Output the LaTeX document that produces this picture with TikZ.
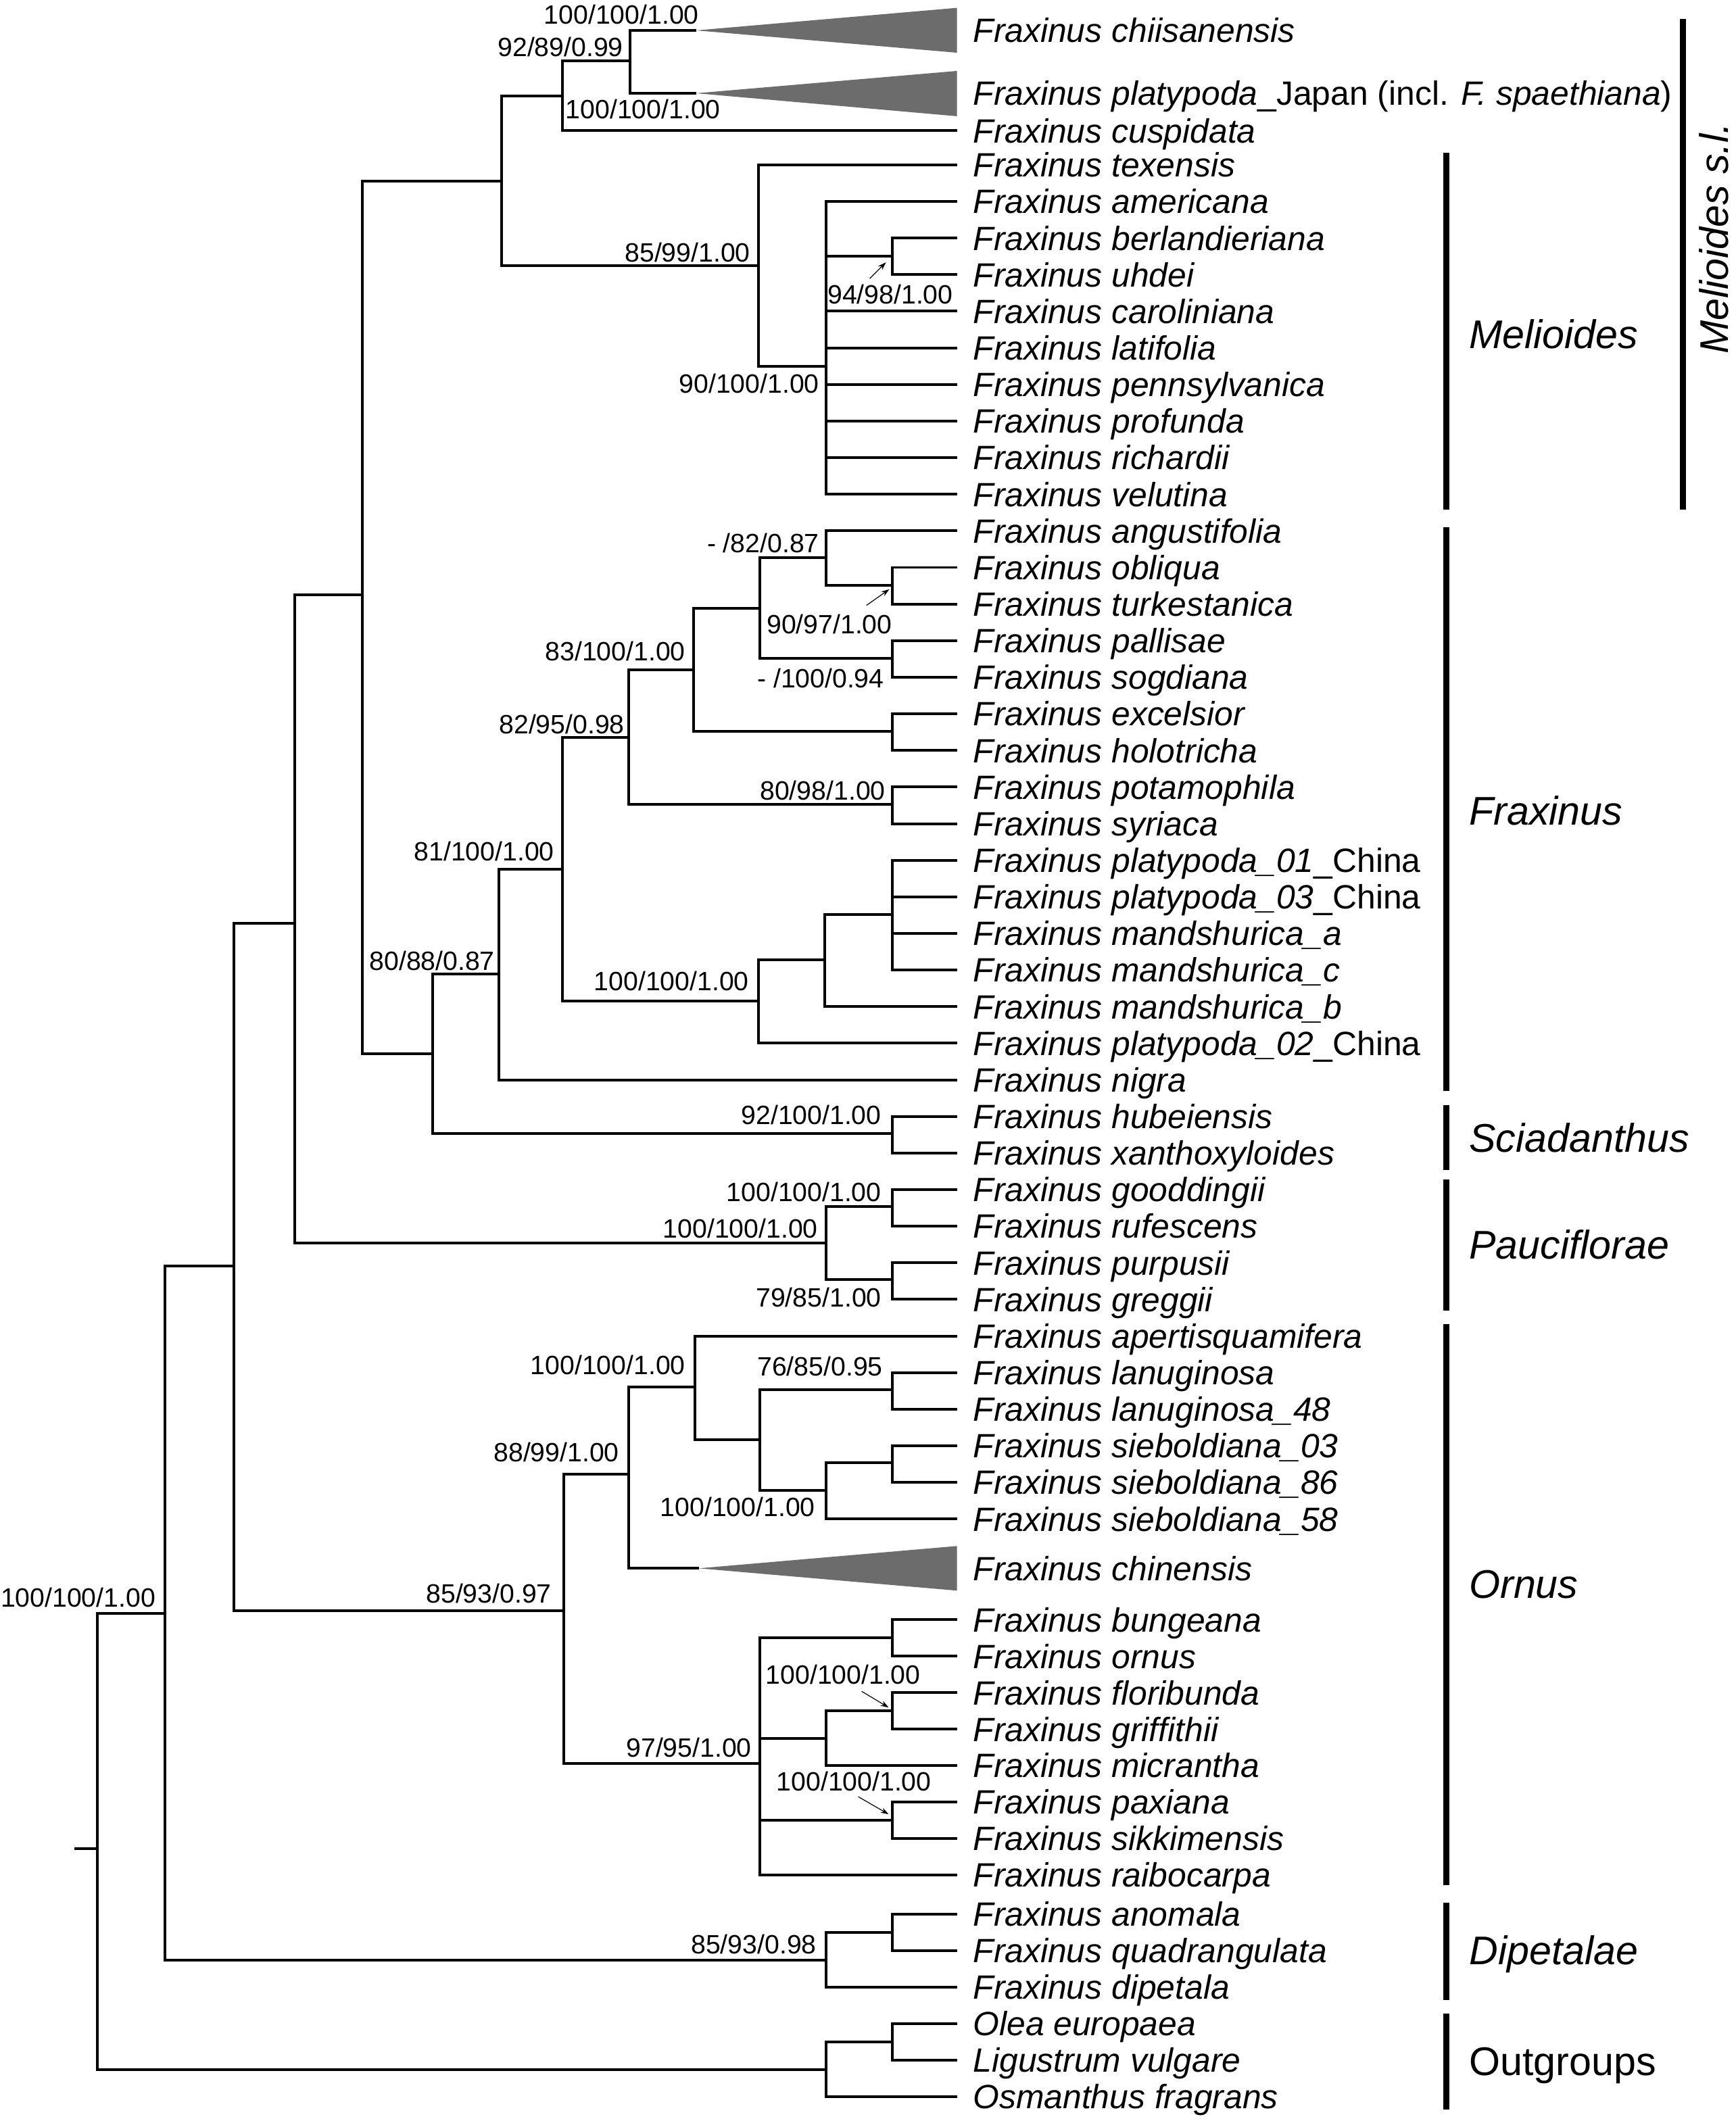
\documentclass[tikz,border=0pt]{standalone}
\usepackage{fontspec}
\setmainfont{Liberation Sans}
\usepackage{tikz}
\usetikzlibrary{arrows.meta, positioning, calc}

\definecolor{cladegray}{RGB}{108,108,108}
\newcommand{\leaffont}{\fontsize{12.46}{14}\selectfont\itshape}
\newcommand{\bsfont}{\fontsize{9.8}{11}\selectfont}
\newcommand{\grpfont}{\fontsize{14.8}{17}\selectfont}

\begin{document}
\begin{tikzpicture}[x=0.5pt, y=-0.5pt,
    every node/.style={inner sep=0pt, outer sep=0pt},
    br/.style={line width=1pt},
    bar/.style={line width=2.3pt},
    leaf/.style={anchor=west, inner xsep=6pt, text height=8.9pt, text depth=0pt, font=\leaffont},
    bs/.style={anchor=east, text height=7pt, text depth=0pt, font=\bsfont},
    grp/.style={anchor=west, text height=10.6pt, text depth=0pt, font=\grpfont\itshape},
    pointer/.style={line width=0.3pt, -{Stealth[length=3pt, width=2pt]}},
    collapsed/.style={fill=cladegray}]

\useasboundingbox (0,0) rectangle (1284,1568);

% Internal nodes of the tree
\coordinate (stub) at (55,1368);
\coordinate (root) at (72,1368);
\coordinate (A) at (122,1194);
\coordinate (B) at (173,937);
\coordinate (C) at (218,683);
\coordinate (D) at (268,440);
\coordinate (E) at (371,134);
\coordinate (F) at (416,71);
\coordinate (G) at (466,45.25);
\coordinate (H) at (561,196.5);
\coordinate (I) at (611,271);
\coordinate (J) at (660,189.6);
\coordinate (K) at (320,779.7);
\coordinate (L) at (369,720.7);
\coordinate (M) at (416,643.1);
\coordinate (N) at (465,545.5);
\coordinate (O) at (513,495.6);
\coordinate (P) at (562,450);
\coordinate (Q) at (611,412.8);
\coordinate (R) at (660,433);
\coordinate (S) at (660,487.2);
\coordinate (T) at (660,541.3);
\coordinate (U) at (660,595.4);
\coordinate (V) at (561,740.8);
\coordinate (W) at (610,710.3);
\coordinate (X) at (660,676.5);
\coordinate (Sc) at (660,838.8);
\coordinate (Pa) at (611,920);
\coordinate (AP) at (660,893);
\coordinate (AQ) at (660,947);
\coordinate (Y) at (417,1192);
\coordinate (Z) at (465,1091);
\coordinate (AA) at (514,1026.5);
\coordinate (AB) at (562,1065.4);
\coordinate (AC) at (660,1028.2);
\coordinate (AD) at (611,1102.6);
\coordinate (AE) at (660,1082.3);
\coordinate (AF) at (562,1305);
\coordinate (AG) at (660,1212);
\coordinate (AH) at (611,1286.25);
\coordinate (AI) at (660,1266);
\coordinate (AJ) at (660,1347);
\coordinate (AK) at (611,1450.25);
\coordinate (AL) at (660,1430);
\coordinate (AM) at (611,1531.25);
\coordinate (AN) at (660,1511);

% Collapsed clades
\coordinate (chitip) at (515,22.5);
\coordinate (pjatip) at (515,69);
\coordinate (chntip) at (517,1160.5);
\fill[collapsed] (chitip) -- (708,5.8) -- (708,39) -- cycle;
\fill[collapsed] (pjatip) -- (708,52.5) -- (708,86) -- cycle;
\fill[collapsed] (chntip) -- (708,1144) -- (708,1177) -- cycle;

% Leaves
\node[leaf] (chi) at (708,22.5) {Fraxinus chiisanensis};
\node[leaf] (pja) at (708,69) {Fraxinus platypoda\textup{\_Japan (incl. }F. spaethiana\textup{)}};
\node[leaf] (cus) at (708,96.7) {Fraxinus cuspidata};
\foreach \i/\nm/\epi in {4/tex/texensis, 5/ame/americana, 6/ber/berlandieriana, 7/uhd/uhdei,
    8/car/caroliniana, 9/lat/latifolia, 10/pen/pennsylvanica, 11/pro/profunda, 12/ric/richardii,
    13/vel/velutina, 14/ang/angustifolia, 15/obl/obliqua, 16/tur/turkestanica, 17/pal/pallisae,
    18/sog/sogdiana, 19/exc/excelsior, 20/hol/holotricha, 21/pot/potamophila, 22/syr/syriaca,
    23/pl1/platypoda\_01\textup{\_China}, 24/pl3/platypoda\_03\textup{\_China},
    25/maa/mandshurica\_a, 26/mac/mandshurica\_c, 27/mab/mandshurica\_b,
    28/pl2/platypoda\_02\textup{\_China}, 29/nig/nigra, 30/hub/hubeiensis, 31/xan/xanthoxyloides,
    32/goo/gooddingii, 33/ruf/rufescens, 34/pur/purpusii, 35/gre/greggii, 36/ape/apertisquamifera,
    37/lan/lanuginosa, 38/l48/lanuginosa\_48, 39/s03/sieboldiana\_03, 40/s86/sieboldiana\_86,
    41/s58/sieboldiana\_58}
  \node[leaf] (\nm) at (708,{122+27.08*(\i-4)}) {Fraxinus \epi};
\node[leaf] (chn) at (708,1160.5) {Fraxinus chinensis};
\foreach \i/\nm/\epi in {0/bun/bungeana, 1/orn/ornus, 2/flo/floribunda, 3/gri/griffithii,
    4/mic/micrantha, 5/pax/paxiana, 6/sik/sikkimensis, 7/rai/raibocarpa}
  \node[leaf] (\nm) at (708,{1198.5+27*\i}) {Fraxinus \epi};
\foreach \i/\nm/\epi in {0/ano/Fraxinus anomala, 1/qua/Fraxinus quadrangulata, 2/dip/Fraxinus dipetala,
    3/ole/Olea europaea, 4/lig/Ligustrum vulgare, 5/osm/Osmanthus fragrans}
  \node[leaf] (\nm) at (708,{1416.5+27*\i}) {\epi};

% Branches
\draw[br] (stub) -- (root);
\foreach \p/\c in {root/A, root/AM, A/B, A/AK, B/C, B/Y, C/D, C/Pa, D/E, D/K, E/F, E/H,
    F/G, F/cus, G/chitip, G/pjatip, H/tex, H/I, I/ame, I/J, I/car, I/lat, I/pen, I/pro, I/ric, I/vel,
    J/ber, J/uhd, K/L, K/Sc, L/M, L/nig, M/N, M/V, N/O, N/U, O/P, O/T, P/Q, P/S, Q/ang, Q/R,
    R/obl, R/tur, S/pal, S/sog, T/exc, T/hol, U/pot, U/syr, V/W, V/pl2, W/X, W/mab,
    X/pl1, X/pl3, X/maa, X/mac, Sc/hub, Sc/xan, Pa/AP, Pa/AQ, AP/goo, AP/ruf, AQ/pur, AQ/gre,
    Y/Z, Y/AF, Z/AA, Z/chntip, AA/ape, AA/AB, AB/AC, AB/AD, AC/lan, AC/l48, AD/AE, AD/s58,
    AE/s03, AE/s86, AF/AG, AF/AH, AF/AJ, AF/rai, AG/bun, AG/orn, AH/AI, AH/mic, AI/flo, AI/gri,
    AJ/pax, AJ/sik, AK/AL, AK/dip, AL/ano, AL/qua, AM/AN, AM/osm, AN/ole, AN/lig}
  \draw[br] (\p) |- (\c);

% Support values (ML / MP / PP)
\node[bs] (l-chi) at ([shift={(2,-11.5)}]chitip) {100/100/1.00};
\node[bs] (l-G) at ([shift={(-5,-10.25)}]G) {92/89/0.99};
\node[bs] (l-pja) at ([shift={(18,12)}]pjatip) {100/100/1.00};
\node[bs] (l-H) at ([shift={(-6,-9.5)}]H) {85/99/1.00};
\node[bs] (l-I) at ([shift={(-5,13)}]I) {90/100/1.00};
\node[bs] (l-J) at ([shift={(45,28.4)}]J) {94/98/1.00};
\node[bs] (l-Q) at ([shift={(-5,-10.8)}]Q) {- /82/0.87};
\node[bs] (l-R) at ([shift={(0,29)}]R) {90/97/1.00};
\node[bs] (l-S) at ([shift={(-6,14.8)}]S) {- /100/0.94};
\node[bs] (l-O) at ([shift={(-6,-13.6)}]O) {83/100/1.00};
\node[bs] (l-N) at ([shift={(-3,-9.5)}]N) {82/95/0.98};
\node[bs] (l-U) at ([shift={(-5,-10.4)}]U) {80/98/1.00};
\node[bs] (l-M) at ([shift={(-6,-13.1)}]M) {81/100/1.00};
\node[bs] (l-V) at ([shift={(-7,-14.8)}]V) {100/100/1.00};
\node[bs] (l-L) at ([shift={(-3,-9.7)}]L) {80/88/0.87};
\node[bs] (l-Sc) at ([shift={(-8,-13.8)}]Sc) {92/100/1.00};
\node[bs] (l-AP) at ([shift={(-8,-11)}]AP) {100/100/1.00};
\node[bs] (l-Pa) at ([shift={(-6,-11)}]Pa) {100/100/1.00};
\node[bs] (l-AQ) at ([shift={(-8,13)}]AQ) {79/85/1.00};
\node[bs] (l-AA) at ([shift={(-7,-16.5)}]AA) {100/100/1.00};
\node[bs] (l-AC) at ([shift={(-7,-17.2)}]AC) {76/85/0.95};
\node[bs] (l-Z) at ([shift={(-7,-16.5)}]Z) {88/99/1.00};
\node[bs] (l-AD) at ([shift={(-8,12.4)}]AD) {100/100/1.00};
\node[bs] (l-Y) at ([shift={(-9,-13)}]Y) {85/93/0.97};
\node[bs] (l-AF) at ([shift={(-6,-12)}]AF) {97/95/1.00};
\node[bs] (l-AI) at ([shift={(21,-27)}]AI) {100/100/1.00};
\node[bs] (l-AJ) at ([shift={(29,-29)}]AJ) {100/100/1.00};
\node[bs] (l-AK) at ([shift={(-7,-11.65)}]AK) {85/93/0.98};
\node[bs] (l-A) at ([shift={(-7,-12)}]A) {100/100/1.00};

% Small pointers from labels to crowded nodes
\draw[pointer] ([shift={(-16.5,16.5)}]J) -- ([shift={(-4.5,4.5)}]J);
\draw[pointer] ([shift={(-19,15)}]R) -- ([shift={(-2,3)}]R);
\draw[pointer] ([shift={(-22.5,-14.5)}]AI) -- ([shift={(-2.5,-2.5)}]AI);
\draw[pointer] ([shift={(-25,-17.5)}]AJ) -- ([shift={(-2.5,-4.5)}]AJ);

% Group bars
\draw[bar] (1245,14) -- (1245,377);
\node[grp, rotate=90, anchor=center] (g-msl) at (1268,176.5) {Melioides s.l.};
\foreach \ya/\yb/\ym/\nm/\txt in {113/377/247/mel/Melioides, 390/807/600/fra/Fraxinus,
    818/866/842/sci/Sciadanthus, 873/970/921/pau/Pauciflorae, 980/1395/1172/orn/Ornus,
    1408/1480/1443/dip/Dipetalae, 1490/1561/1525/out/\textup{Outgroups}} {
  \draw[bar] (1070,\ya) -- (1070,\yb);
  \node[grp] (g-\nm) at (1087,\ym) {\txt};
}
\end{tikzpicture}
\end{document}
